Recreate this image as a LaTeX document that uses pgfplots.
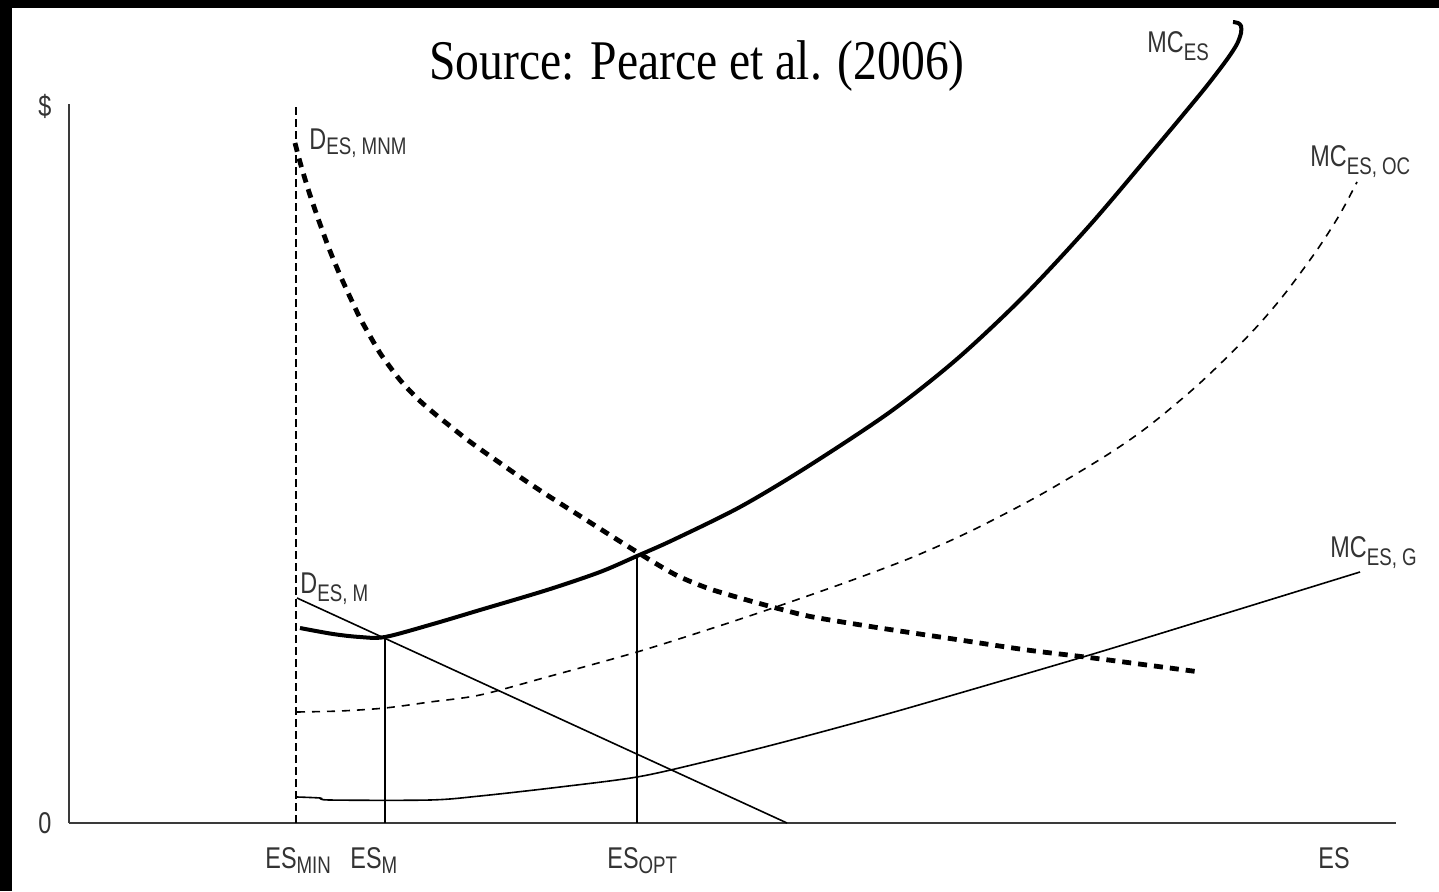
\documentclass[border=0pt]{standalone}
\usepackage{fontspec}
\usepackage{pgfplots}
\pgfplotsset{compat=1.18}
\setmainfont{Liberation Sans}[FakeStretch=0.78]
\newfontfamily\titlefont{Liberation Serif}[FakeStretch=0.85]
\definecolor{txt}{HTML}{333333}
\definecolor{axc}{HTML}{3A3A3A}
\newcommand{\lab}[3][4pt]{\fontsize{15}{17}\selectfont #2\raisebox{-#1}{\fontsize{12}{14}\selectfont #3}}
\begin{document}
\begin{tikzpicture}
\fill[white] (0,0) rectangle (719.5pt,445.5pt);
\fill[black] (0,0) rectangle (6pt,445.5pt);
\fill[black] (0,441.5pt) rectangle (719.5pt,445.5pt);
\path[use as bounding box] (0,0) rectangle (719.5pt,445.5pt);
\begin{axis}[
  anchor=south west, at={(34.5pt,34pt)},
  x=0.5pt, y=0.5pt,
  xmin=69, xmax=1396, ymin=0, ymax=719,
  axis x line=bottom, axis y line=left,
  axis line style={-, draw=axc, line width=1pt},
  xtick=\empty, ytick=\empty,
  clip=false,
  every axis plot/.append style={black},
]
% ES_MIN dashed vertical
\addplot[line width=0.7pt, dash pattern=on 4pt off 2pt] coordinates {(296,0) (296,719)};
% ES_M and ES_OPT verticals
\addplot[line width=0.8pt] coordinates {(385,0) (385,186)};
\addplot[line width=0.8pt] coordinates {(637,0) (637,268)};
% D_ES,M
\addplot[line width=0.8pt] coordinates {(297,225) (787,0)};
% MC_ES,G
\addplot[line width=0.8pt, smooth] coordinates {
(297,26) (320,25) (330,23) (430,23) (480,27) (560,36) (637,46) (700,60) (780,80) (880,107) (960,130) (1093,169) (1227,210) (1360,251)};
% MC_ES,OC
\addplot[line width=0.8pt, smooth, dash pattern=on 4pt off 3.5pt] coordinates {
(297,111) (340,112) (385,115) (430,121) (480,128) (547,146) (637,171) (713,195) (770,214) (847,241) (913,266) (973,293) (1040,328) (1107,368) (1150,398) (1200,440) (1250,489) (1283,527) (1317,573) (1340,609) (1357,641)};
% D_ES,MNM
\addplot[line width=2.4pt, smooth, dash pattern=on 4.5pt off 3.5pt] coordinates {
(295,680) (300,661) (305,644) (310,628) (320,599) (330,572) (340,548) (350,526) (360,505) (370,487) (380,470) (390,456) (400,443) (410,432) (420,422) (435,409) (450,397) (465,385) (480,374) (500,360) (520,346) (547,328) (580,307) (613,286) (637,271) (660,257) (680,246) (710,234) (747,223) (780,214) (813,206) (880,195) (960,183) (1027,173) (1093,165) (1200,151)};
% MC_ES
\addplot[line width=2pt, smooth] coordinates {
(300,195) (333,189) (360,186) (385,186) (433,199) (480,213) (547,233) (600,251) (637,267) (673,283) (740,316) (807,356) (890,411) (957,464) (1023,526) (1090,598) (1157,677) (1197,725) (1213,745) (1228,765) (1237,779) (1241,790) (1241,797) (1238,800) (1233,801)};
% labels
\node[anchor=base, inner sep=0, black] at (axis cs:697,743) {\titlefont\fontsize{28}{30}\selectfont Source: Pearce et al. (2006)};
\node[anchor=base west, inner sep=0, text=txt] at (axis cs:309,673) {\lab[2.5pt]{D}{ES, MNM}};
\node[anchor=base west, inner sep=0, text=txt] at (axis cs:1147,770) {\lab{MC}{ES}};
\node[anchor=base west, inner sep=0, text=txt] at (axis cs:1310,656) {\lab{MC}{ES, OC}};
\node[anchor=base west, inner sep=0, text=txt] at (axis cs:1330,266) {\lab{MC}{ES, G}};
\node[anchor=base west, inner sep=0, text=txt] at (axis cs:300,230) {\lab{D}{ES, M}};
\node[anchor=base west, inner sep=0, text=txt] at (axis cs:265,-45) {\lab[2.5pt]{ES}{MIN}};
\node[anchor=base west, inner sep=0, text=txt] at (axis cs:350,-45) {\lab[2.5pt]{ES}{M}};
\node[anchor=base west, inner sep=0, text=txt] at (axis cs:607,-45) {\lab[2.5pt]{ES}{OPT}};
\node[anchor=base west, inner sep=0, text=txt] at (axis cs:1318,-45) {\fontsize{15}{17}\selectfont ES};
\node[anchor=center, inner sep=0, text=txt] at (axis cs:45,717) {\fontsize{15}{17}\selectfont \$};
\node[anchor=center, inner sep=0, text=txt] at (axis cs:45,0) {\fontsize{15}{17}\selectfont 0};
\end{axis}
\end{tikzpicture}
\end{document}
